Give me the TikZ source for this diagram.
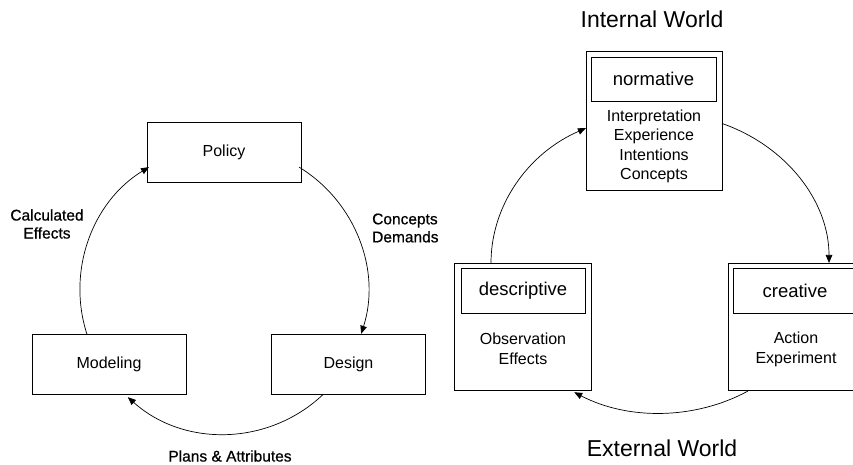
\documentclass[tikz,border=0pt]{standalone}
\usepackage{fontspec}
\setmainfont{Liberation Sans}
\newfontfamily\heavylabel[FakeBold=0.7]{Liberation Sans}
\usetikzlibrary{arrows.meta,calc}
\begin{document}
\begin{tikzpicture}[x=1pt,y=1pt,
  box/.style={draw, line width=0.9pt, minimum width=154pt, minimum height=60pt, inner sep=0pt, font=\fontsize{16}{19}\selectfont},
  panel/.style={draw, line width=0.9pt, inner sep=0pt},
  tag/.style={draw, line width=0.9pt, inner sep=0pt, minimum width=125pt, minimum height=44pt, font=\fontsize{18.5}{22}\selectfont},
  body/.style={align=center, inner sep=0pt, font=\fontsize{16}{19.5}\selectfont},
  lbl/.style={inner sep=0pt, font=\heavylabel\fontsize{15.5}{18}\selectfont},
  world/.style={inner sep=0pt, font=\fontsize{23}{27}\selectfont},
  flow/.style={line width=0.7pt, -{Triangle[length=8pt,width=6.5pt]}}]
\useasboundingbox (0,0) rectangle (853,465);
\clip (0,0) rectangle (853,465);

% ---- planning cycle ----
\node[box] (policy) at (224,313) {Policy};
\node[box] (modeling) at (109,101) {Modeling};
\node[box] (design) at (348.5,101) {Design};
\coordinate (cyc) at (224,175);
\draw[flow] ($(cyc)+(198:144)$) arc[start angle=198, end angle=121.4, radius=144];
\draw[flow] ($(cyc)+(58.6:144)$) arc[start angle=58.6, end angle=-17.7, radius=144];
\draw[flow] ($(cyc)+(-46.4:144)$) arc[start angle=-46.4, end angle=-131.9, radius=144];

\node[lbl, align=center] (calceff) at (47,241) {Calculated\\Effects};
\node[lbl, align=left, anchor=west] (concdem) at (372,237) {Concepts\\Demands};
\node[lbl] (plans) at (230,9) {Plans \& Attributes};

% ---- knowledge cycle ----
\node[world] (internal) at (652,446) {Internal World};
\node[world] (external) at (662,17) {External World};

\node[panel, minimum width=136pt, minimum height=139pt] (norm) at (654,344.5) {};
\node[tag] (normtag) at (653.5,386) {normative};
\node[body] (normtxt) at (654,318.5) {Interpretation\\Experience\\Intentions\\Concepts};

\node[panel, minimum width=137pt, minimum height=127pt] (desc) at (522.5,138.5) {};
\node[tag, minimum width=124pt, minimum height=45pt] (desctag) at (523,174.5) {descriptive};
\node[body, font=\fontsize{16}{20}\selectfont] (desctxt) at (523,116) {Observation\\Effects};

\node[panel, minimum width=137pt, minimum height=127pt] (crea) at (796.5,138.5) {};
\node[tag, minimum width=124pt, minimum height=45pt] (creatag) at (795,174.5) {creative};
\node[body, font=\fontsize{16}{20}\selectfont] (creatxt) at (796,116) {Action\\Experiment};

\coordinate (orb) at (660,202);
\draw[flow] ($(orb)+(-169,0)$) arc[start angle=180, end angle=116, x radius=169, y radius=150];
\draw[flow] ($(orb)+({169*cos(68.5)},{150*sin(68.5)})$) arc[start angle=68.5, end angle=0, x radius=169, y radius=150];
\draw[flow] ($(orb)+({169*cos(-58.6)},{150*sin(-58.6)})$) arc[start angle=-58.6, end angle=-120.5, x radius=169, y radius=150];
\end{tikzpicture}
\end{document}
